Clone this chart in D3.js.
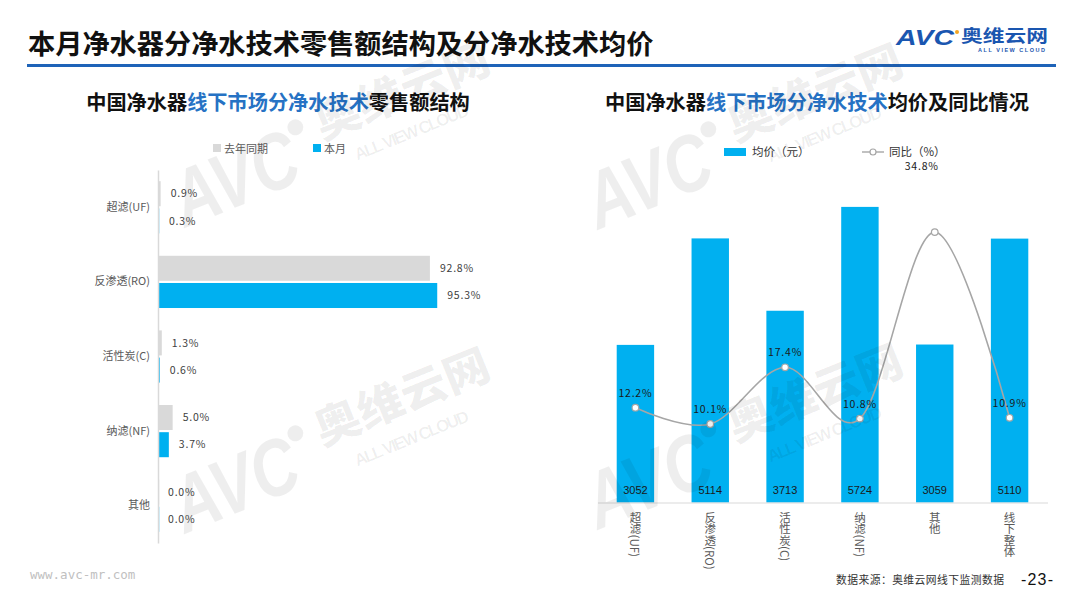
<!DOCTYPE html>
<html>
<head>
<meta charset="utf-8">
<script src="https://cdn.jsdelivr.net/npm/d3@7"></script>
<style>
  html, body { margin: 0; padding: 0; background: #fff; }
  svg { display: block; font-family: "Noto Sans CJK SC", "Noto Sans", sans-serif; }
</style>
</head>
<body>
<svg id="chart" width="1080" height="608"></svg>
<script>
// ---------------- data ----------------
const leftCategories = ["超滤(UF)", "反渗透(RO)", "活性炭(C)", "纳滤(NF)", "其他"];
const lastYearShare = [0.9, 92.8, 1.3, 5.0, 0.0];
const thisMonthShare = [0.3, 95.3, 0.6, 3.7, 0.0];
const leftSeries = ["去年同期", "本月"];

const rightCategories = ["超滤(UF)", "反渗透(RO)", "活性炭(C)", "纳滤(NF)", "其他", "线下整体"];
const avgPrice = [3052, 5114, 3713, 5724, 3059, 5110];
const yoyGrowth = [12.2, 10.1, 17.4, 10.8, 34.8, 10.9];
const rightSeries = ["均价（元）", "同比（%）"];

// ---------------- styles ----------------
const BLUE = "#00b0f0";
const GRAY = "#d9d9d9";
const TITLE_BLUE = "#2672c4";
const TEXT = "#595959";
const LINE_GRAY = "#a6a6a6";

const svg = d3.select("#chart");

// ---------------- watermarks (faint) ----------------
function watermark(x, y) {
  const g = svg.append("g")
    .attr("transform", `translate(${x},${y}) rotate(-22)`)
    .attr("fill", "#000").attr("fill-opacity", 0.065)
    .style("pointer-events", "none");
  g.append("text").attr("x", 0).attr("y", 0)
    .attr("font-family", "Liberation Sans, Arial, sans-serif")
    .attr("font-size", 80).attr("font-weight", 700).attr("font-style", "italic")
    .attr("textLength", 130).attr("lengthAdjust", "spacingAndGlyphs")
    .text("AVC");
  g.append("circle").attr("cx", 140).attr("cy", -52).attr("r", 8);
  g.append("text").attr("x", 160).attr("y", -30)
    .attr("font-size", 44).attr("font-weight", 900)
    .attr("textLength", 185).attr("lengthAdjust", "spacingAndGlyphs")
    .text("奥维云网");
  g.append("text").attr("x", 185).attr("y", 2)
    .attr("font-family", "Liberation Sans, Arial, sans-serif")
    .attr("font-size", 17).attr("font-weight", 700)
    .attr("textLength", 122).attr("lengthAdjust", "spacing")
    .text("ALL VIEW CLOUD");
}

// ---------------- header ----------------
svg.append("text")
  .attr("x", 28).attr("y", 54)
  .attr("font-size", 27.2).attr("font-weight", 700).attr("fill", "#111")
  .text("本月净水器分净水技术零售额结构及分净水技术均价");

svg.append("rect")
  .attr("x", 27).attr("y", 64).attr("width", 1029).attr("height", 3)
  .attr("fill", "#1e63b8");

// logo
const logo = svg.append("g");
logo.append("text")
  .attr("x", 896).attr("y", 45)
  .attr("font-family", "Liberation Sans, Arial, sans-serif")
  .attr("font-size", 22).attr("font-weight", 700).attr("font-style", "italic")
  .attr("fill", "#1a56b0")
  .attr("textLength", 58).attr("lengthAdjust", "spacingAndGlyphs")
  .text("AVC");
logo.append("circle").attr("cx", 957).attr("cy", 32).attr("r", 2).attr("fill", "#f5a623");
logo.append("text")
  .attr("x", 961).attr("y", 42)
  .attr("font-size", 17).attr("font-weight", 700).attr("fill", "#1a56b0")
  .attr("textLength", 87).attr("lengthAdjust", "spacingAndGlyphs")
  .text("奥维云网");
logo.append("text")
  .attr("x", 978).attr("y", 52)
  .attr("font-family", "Liberation Sans, Arial, sans-serif")
  .attr("font-size", 5.5).attr("font-weight", 700).attr("fill", "#1a56b0")
  .attr("textLength", 67).attr("lengthAdjust", "spacing")
  .text("ALL VIEW CLOUD");

// ---------------- titles ----------------
function chartTitle(cx, parts) {
  const t = svg.append("text")
    .attr("x", cx).attr("y", 110)
    .attr("text-anchor", "middle")
    .attr("font-size", 20.2).attr("font-weight", 700);
  parts.forEach(p => t.append("tspan").attr("fill", p[1]).text(p[0]));
}
chartTitle(278, [["中国净水器", "#111"], ["线下市场分净水技术", TITLE_BLUE], ["零售额结构", "#111"]]);
chartTitle(817, [["中国净水器", "#111"], ["线下市场分净水技术", TITLE_BLUE], ["均价及同比情况", "#111"]]);

watermark(185, 228);
watermark(598, 230);
watermark(185, 534);

// ---------------- left chart ----------------
const leftG = svg.append("g");
const xL = d3.scaleLinear().domain([0, 100]).range([158, 451]);
const yL = d3.scaleBand().domain(leftCategories).range([170, 543]).paddingInner(0.3).paddingOuter(0.15);
const ySub = d3.scaleBand().domain(leftSeries).range([0, yL.bandwidth()]).paddingInner(0.08);
const leftColors = { "去年同期": GRAY, "本月": BLUE };

// legend
const legL = leftG.append("g");
[[213, "去年同期"], [313, "本月"]].forEach(([x, name]) => {
  legL.append("rect").attr("x", x).attr("y", 144).attr("width", 8).attr("height", 8).attr("fill", leftColors[name]);
  legL.append("text").attr("x", x + 11).attr("y", 152.5)
    .attr("font-size", 11).attr("fill", TEXT).text(name);
});

const leftRows = leftCategories.map((c, i) => ({
  cat: c,
  vals: [{ s: "去年同期", v: lastYearShare[i] }, { s: "本月", v: thisMonthShare[i] }]
}));

const rowG = leftG.selectAll("g.row").data(leftRows).join("g")
  .attr("class", "row")
  .attr("transform", d => `translate(0,${yL(d.cat)})`);

rowG.selectAll("rect").data(d => d.vals).join("rect")
  .attr("x", xL(0))
  .attr("y", d => ySub(d.s))
  .attr("width", d => Math.max(xL(d.v) - xL(0), 1.2))
  .attr("height", ySub.bandwidth())
  .attr("fill", d => leftColors[d.s]);

rowG.selectAll("text.val").data(d => d.vals).join("text")
  .attr("class", "val")
  .attr("x", d => xL(d.v) + 10)
  .attr("y", d => ySub(d.s) + ySub.bandwidth() / 2)
  .attr("dy", "0.35em")
  .attr("font-size", 10.5).attr("fill", "#404040")
  .attr("letter-spacing", 0.8)
  .text(d => d.v.toFixed(1) + "%");

// category axis
const axL = leftG.append("g")
  .attr("transform", `translate(${xL(0)},0)`)
  .call(d3.axisLeft(yL).tickSize(0).tickPadding(8));
axL.select(".domain").attr("stroke", GRAY).attr("stroke-width", 1.5);
axL.selectAll("text").attr("font-size", 11).attr("fill", TEXT)
  .attr("font-family", "Noto Sans CJK SC, sans-serif");

// ---------------- right chart ----------------
const rightG = svg.append("g");
const xR = d3.scaleBand().domain(rightCategories).range([598, 1047]).paddingInner(0.5).paddingOuter(0.25);
const yR = d3.scaleLinear().domain([0, 7000]).range([502.5, 141]);
const yLine = d3.scaleLinear().domain([0, 40]).range([502.5, 191.7]);

const rightRows = rightCategories.map((c, i) => ({ cat: c, price: avgPrice[i], yoy: yoyGrowth[i] }));

rightG.selectAll("rect.bar").data(rightRows).join("rect")
  .attr("class", "bar")
  .attr("x", d => xR(d.cat))
  .attr("y", d => yR(d.price))
  .attr("width", xR.bandwidth())
  .attr("height", d => yR(0) - yR(d.price))
  .attr("fill", BLUE);

rightG.selectAll("text.price").data(rightRows).join("text")
  .attr("class", "price")
  .attr("x", d => xR(d.cat) + xR.bandwidth() / 2)
  .attr("y", yR(0) - 9)
  .attr("text-anchor", "middle")
  .attr("font-family", "Liberation Sans, Arial, sans-serif")
  .attr("font-size", 11).attr("fill", "#1a1a1a")
  .text(d => d.price);

// x axis
const axR = rightG.append("g")
  .attr("transform", `translate(0,${yR(0)})`)
  .call(d3.axisBottom(xR).tickSize(0).tickFormat(() => ""));
axR.select(".domain").attr("stroke", GRAY).attr("stroke-width", 1.2)
  .attr("d", `M598,0.5H1048`);
axR.selectAll(".tick").each(function (d) {
  d3.select(this).append("text")
    .attr("x", 0).attr("y", 9)
    .attr("text-anchor", "start")
    .attr("font-size", 11.5).attr("fill", TEXT)
    .attr("font-family", "Noto Sans CJK SC, sans-serif")
    .style("writing-mode", "vertical-rl")
    .style("text-orientation", "mixed")
    .text(d);
});

// line
const lineGen = d3.line()
  .x(d => xR(d.cat) + xR.bandwidth() / 2)
  .y(d => yLine(d.yoy))
  .curve(d3.curveCardinal.tension(0));

rightG.append("path")
  .datum(rightRows)
  .attr("d", lineGen)
  .attr("fill", "none")
  .attr("stroke", LINE_GRAY)
  .attr("stroke-width", 1.6);

rightG.selectAll("circle.pt").data(rightRows).join("circle")
  .attr("class", "pt")
  .attr("cx", d => xR(d.cat) + xR.bandwidth() / 2)
  .attr("cy", d => yLine(d.yoy))
  .attr("r", 3.3)
  .attr("fill", "#fff")
  .attr("stroke", LINE_GRAY)
  .attr("stroke-width", 1.2);

const maxYoy = d3.max(yoyGrowth);
rightG.selectAll("text.yoy").data(rightRows).join("text")
  .attr("class", "yoy")
  .attr("x", d => xR(d.cat) + xR.bandwidth() / 2 - (d.yoy === maxYoy ? 13 : 0))
  .attr("y", d => yLine(d.yoy) - (d.yoy === maxYoy ? 62 : 11))
  .attr("text-anchor", "middle")
  .attr("font-size", 10.5).attr("fill", "#1a1a1a")
  .attr("letter-spacing", 0.8)
  .text(d => d.yoy.toFixed(1) + "%");

// right legend
const legR = rightG.append("g");
legR.append("rect").attr("x", 724).attr("y", 148).attr("width", 22).attr("height", 8).attr("fill", BLUE);
legR.append("text").attr("x", 752).attr("y", 156).attr("font-size", 11.5).attr("fill", "#333").text(rightSeries[0]);
legR.append("line").attr("x1", 862).attr("x2", 884).attr("y1", 152).attr("y2", 152)
  .attr("stroke", LINE_GRAY).attr("stroke-width", 1.4);
legR.append("circle").attr("cx", 873).attr("cy", 152).attr("r", 3).attr("fill", "#fff")
  .attr("stroke", LINE_GRAY).attr("stroke-width", 1.2);
legR.append("text").attr("x", 889).attr("y", 156).attr("font-size", 11.5).attr("fill", "#333").text(rightSeries[1]);

// watermark over the lower right area (semi-transparent)
watermark(598, 530);

// ---------------- footer ----------------
svg.append("text")
  .attr("x", 30).attr("y", 579)
  .attr("font-family", "DejaVu Sans Mono, monospace")
  .attr("font-size", 12.5).attr("fill", "#c0c0c0")
  .text("www.avc-mr.com");

svg.append("text")
  .attr("x", 836).attr("y", 584)
  .attr("font-size", 10.8).attr("fill", "#333")
  .attr("textLength", 168).attr("lengthAdjust", "spacing")
  .text("数据来源：奥维云网线下监测数据");

svg.append("text")
  .attr("x", 1021).attr("y", 585)
  .attr("font-family", "Liberation Sans, Arial, sans-serif")
  .attr("font-size", 16).attr("fill", "#111")
  .attr("textLength", 32).attr("lengthAdjust", "spacing")
  .text("-23-");
</script>
</body>
</html>
